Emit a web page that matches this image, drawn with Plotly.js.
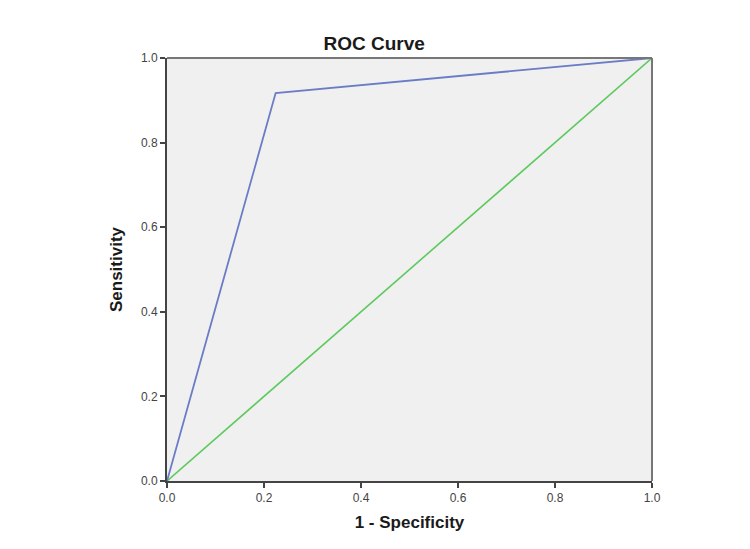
<!DOCTYPE html>
<html>
<head>
<meta charset="utf-8">
<script src="https://cdn.plot.ly/plotly-3.0.1.min.js"></script>
<style>html,body{margin:0;padding:0;background:#fff;}#chart{width:750px;height:549px;}</style>
</head>
<body>
<div id="chart"></div>
<script>
const rocX = [0, 0.224, 1];
const rocY = [0, 0.917, 1];
const refX = [0, 1];
const refY = [0, 1];
const tickVals = [0, 0.2, 0.4, 0.6, 0.8, 1.0];
const tickText = ["0.0", "0.2", "0.4", "0.6", "0.8", "1.0"];

const traces = [
  {x: refX, y: refY, mode: 'lines', line: {color: '#5ec95e', width: 1.6}, hoverinfo: 'skip'},
  {x: rocX, y: rocY, mode: 'lines', line: {color: '#6a7cc6', width: 1.8}, hoverinfo: 'skip'}
];

const FONT = 'Arial, Liberation Sans, sans-serif';
const axisCommon = {
  range: [0, 1], tickvals: tickVals, ticktext: tickText,
  ticks: 'outside', ticklen: 5, tickwidth: 2, tickcolor: '#444',
  showgrid: false, zeroline: false, showline: true, linecolor: '#444', linewidth: 2,
  tickfont: {family: FONT, size: 12, color: '#444'},
  fixedrange: true
};

const layout = {
  width: 750, height: 549,
  margin: {l: 167, r: 98, t: 58, b: 68},
  paper_bgcolor: '#ffffff', plot_bgcolor: '#f0f0f0',
  showlegend: false,
  title: {text: '<b>ROC Curve</b>', x: 0.427, xref: 'paper', xanchor: 'center',
    y: 0.921, yref: 'container', yanchor: 'middle',
    font: {family: FONT, size: 19, color: '#1a1a1a'}},
  xaxis: Object.assign({}, axisCommon, {
    title: {text: '<b>1 - Specificity</b>', standoff: 12, font: {family: FONT, size: 17, color: '#1a1a1a'}}
  }),
  yaxis: Object.assign({}, axisCommon, {
    title: {text: '<b>Sensitivity</b>', standoff: 14, font: {family: FONT, size: 17, color: '#1a1a1a'}}
  }),
  shapes: [
    {type: 'line', xref: 'paper', yref: 'paper', x0: 0, x1: 1, y0: 1, y1: 1, line: {color: '#777', width: 2}},
    {type: 'line', xref: 'paper', yref: 'paper', x0: 1, x1: 1, y0: 0, y1: 1, line: {color: '#777', width: 2}}
  ]
};

Plotly.newPlot('chart', traces, layout, {staticPlot: true, displayModeBar: false});
</script>
</body>
</html>
